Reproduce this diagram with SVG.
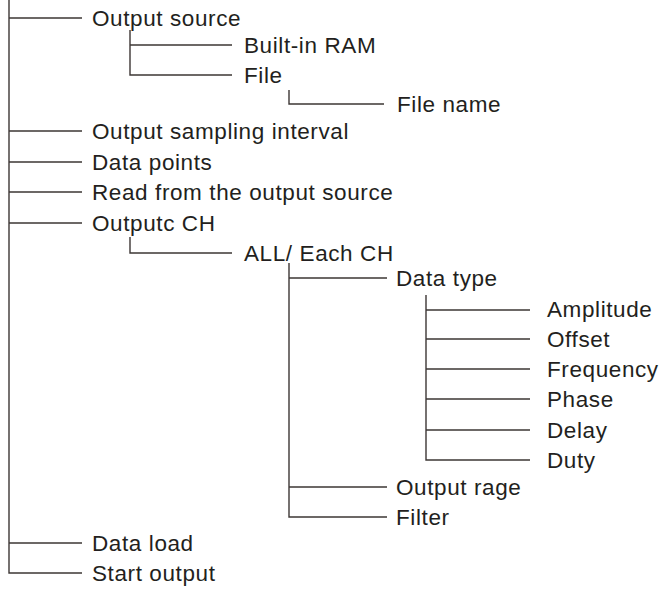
<svg xmlns="http://www.w3.org/2000/svg" width="660" height="592" viewBox="0 0 660 592">
<style>
.c{fill:none;stroke:#3d3735;stroke-width:1.4}
text{font-family:"Liberation Sans",Arial,sans-serif;font-size:22.5px;letter-spacing:0.6px;fill:#231f20}
</style>
<rect width="660" height="592" fill="#fff"/>
<g id="connectors">
<path class="c" d="M9,0V573H82M9,18H82M9,131H82M9,162H82M9,192H82M9,223H82M9,543H82"/>
<path class="c" d="M130,30V75H232M130,45H232"/>
<path class="c" d="M289,90V104H384"/>
<path class="c" d="M130,237V253H232"/>
<path class="c" d="M289,263V517H387M289,278H387M289,487H387"/>
<path class="c" d="M426,295V460H530M426,310H530M426,339H530M426,369H530M426,399H530M426,430H530"/>
</g>
<g id="n1"><text x="92" y="26">Output source</text></g>
<g id="n2"><text x="244" y="53">Built-in RAM</text></g>
<g id="n3"><text x="244" y="83">File</text></g>
<g id="n4"><text x="397" y="112">File name</text></g>
<g id="n5"><text x="92" y="139">Output sampling interval</text></g>
<g id="n6"><text x="92" y="170">Data points</text></g>
<g id="n7"><text x="92" y="200">Read from the output source</text></g>
<g id="n8"><text x="92" y="231">Outputc CH</text></g>
<g id="n9"><text x="244" y="261">ALL/ Each CH</text></g>
<g id="n10"><text x="396" y="286">Data type</text></g>
<g id="n11"><text x="547" y="317">Amplitude</text></g>
<g id="n12"><text x="547" y="347">Offset</text></g>
<g id="n13"><text x="547" y="377">Frequency</text></g>
<g id="n14"><text x="547" y="407">Phase</text></g>
<g id="n15"><text x="547" y="438">Delay</text></g>
<g id="n16"><text x="547" y="468">Duty</text></g>
<g id="n17"><text x="396" y="495">Output rage</text></g>
<g id="n18"><text x="396" y="525">Filter</text></g>
<g id="n19"><text x="92" y="551">Data load</text></g>
<g id="n20"><text x="92" y="581">Start output</text></g>
</svg>
